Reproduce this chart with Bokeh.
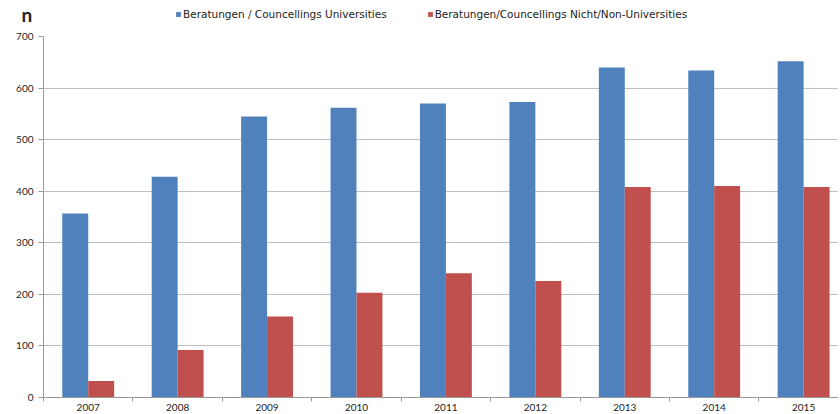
from bokeh.plotting import figure
from bokeh.models import ColumnDataSource, FixedTicker, Range1d, Legend, LegendItem
from bokeh.layouts import column
from bokeh.transform import dodge
from bokeh.core.properties import value
from bokeh.embed import file_html
from bokeh.resources import INLINE

years = ["2007", "2008", "2009", "2010", "2011", "2012", "2013", "2014", "2015"]
universities = [357, 428, 545, 562, 570, 573, 640, 634, 652]
non_universities = [32, 92, 157, 203, 241, 226, 408, 410, 408]
y_ticks = [0, 100, 200, 300, 400, 500, 600, 700]
label_uni = "Beratungen / Councellings Universities"
label_non = "Beratungen/Councellings Nicht/Non-Universities"
y_unit = "n"

pos = list(range(1, len(years) + 1))
src = ColumnDataSource(dict(x=pos, uni=universities, non=non_universities))

FONT = "Lato"
LEG_FONT = "DejaVu Sans"
BLUE = "#4F81BD"
RED = "#C0504D"
W = 838
HEAD_H = 27
MAIN_H = 386

# ---------- header: unit label + legend ----------
head = figure(width=W, height=HEAD_H, output_backend="svg", toolbar_location=None,
              x_range=Range1d(0, W), y_range=Range1d(0, HEAD_H),
              x_axis_type=None, y_axis_type=None,
              min_border=0, min_border_left=0, min_border_right=0,
              min_border_top=0, min_border_bottom=0)
head.frame_align = False
head.outline_line_color = None
head.xgrid.visible = False
head.ygrid.visible = False
head.text(x=[21], y=[HEAD_H - 13.5], text=[y_unit], text_font=value(FONT),
          text_font_size="19px", text_font_style="bold", text_color="#222222",
          text_baseline="middle", text_align="left")
# legend keys (off-frame dummies carrying the series colours)
keys = ColumnDataSource(dict(x=[-1000], top=[0]))
d1 = head.vbar(x="x", top="top", width=1, source=keys, fill_color=BLUE, line_color=None)
d2 = head.vbar(x="x", top="top", width=1, source=keys, fill_color=RED, line_color=None)
legend = Legend(items=[LegendItem(label=label_uni, renderers=[d1]),
                       LegendItem(label=label_non, renderers=[d2])],
                orientation="horizontal", location=(175, HEAD_H - 20),
                label_text_font=LEG_FONT, label_text_font_size="10.5px", label_text_color="#222222",
                glyph_width=6, glyph_height=6, label_height=12, label_standoff=2,
                spacing=40, padding=0, margin=0, border_line_color=None,
                background_fill_alpha=0)
head.add_layout(legend, "center")

# ---------- main chart ----------
p = figure(width=W, height=MAIN_H, output_backend="svg", toolbar_location=None,
           x_range=Range1d(0.5, 9.39), y_range=Range1d(0, 700),
           min_border_left=43, min_border_right=0, min_border_top=36 - HEAD_H, min_border_bottom=0)
p.frame_align = False
p.outline_line_color = None

bw = 0.29
p.vbar(x=dodge("x", -bw / 2, range=p.x_range), top="uni", width=bw, source=src,
       fill_color=BLUE, line_color=None)
p.vbar(x=dodge("x", bw / 2, range=p.x_range), top="non", width=bw, source=src,
       fill_color=RED, line_color=None)

p.xaxis.ticker = FixedTicker(ticks=pos, minor_ticks=[i + 0.5 for i in range(0, len(years) + 1)])
p.xaxis.major_label_overrides = {i: y for i, y in zip(pos, years)}
p.xaxis.major_tick_out = 0
p.xaxis.major_tick_in = 0
p.xaxis.minor_tick_out = 4
p.xaxis.minor_tick_in = 0
p.xaxis.minor_tick_line_color = "#999999"
p.xaxis.axis_line_color = "#999999"
p.xaxis.major_label_text_font = FONT
p.xaxis.major_label_text_font_size = "10px"
p.xaxis.major_label_text_color = "#222222"
p.xaxis.major_label_standoff = 2

p.yaxis.ticker = FixedTicker(ticks=y_ticks)
p.yaxis.major_tick_out = 5
p.yaxis.major_tick_in = 0
p.yaxis.minor_tick_line_color = None
p.yaxis.major_tick_line_color = "#999999"
p.yaxis.axis_line_color = "#999999"
p.yaxis.major_label_text_font = FONT
p.yaxis.major_label_text_font_size = "10px"
p.yaxis.major_label_text_color = "#222222"
p.yaxis.major_label_standoff = 5

p.xgrid.grid_line_color = None
p.ygrid.grid_line_color = "#BFBFBF"
p.ygrid.grid_line_width = 1

layout = column(head, p, spacing=0)
open("out.html", "w").write(file_html(layout, INLINE))
